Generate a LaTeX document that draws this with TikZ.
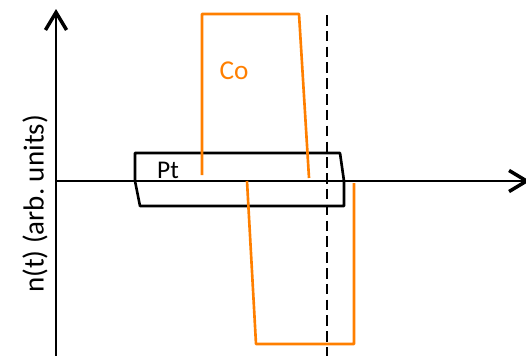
\documentclass[tikz,border=0pt]{standalone}
\usepackage{fontspec}
\setmainfont{Carlito}
\usetikzlibrary{arrows.meta}
\definecolor{coorange}{RGB}{255,127,0}

\begin{document}
\begin{tikzpicture}[
    x=0.02cm, y=-0.02cm,
    % Axes with open barbed heads
    axis/.style={line width=1.4pt, -{Straight Barb[length=10pt, width=12pt, line width=2pt]}},
    % Pt layer outline
    ptlayer/.style={draw, line width=1.5pt, line join=round},
    % Co profile
    coprofile/.style={draw=coorange, line width=1.5pt, line join=round},
    % Vertical marker line
    marker/.style={line width=1.6pt, dash pattern=on 6pt off 3pt},
    % Labels
    lbl/.style={font=\fontsize{16.5}{19}\selectfont, inner sep=0pt},
]
\useasboundingbox (0,0) rectangle (526,355);
\clip (0,0) rectangle (526,355);

% Axes
\coordinate (origin) at (56,181);
\coordinate (ybot) at (56,360);
\coordinate (ytop) at (56,9);
\coordinate (xend) at (530,181);
\draw[axis] (ybot) -- (ytop);
\draw[axis] (origin) -- (xend);
\node[lbl, rotate=90] (ylabel) at (35,204) {n(t) (arb.\ units)};

% Pt layer
\draw[ptlayer] (135,153) -- (340,153) -- (344,181) -- (344,206) -- (140,206) -- (135,181) -- cycle;
\node[lbl, font=\fontsize{14.5}{17}\selectfont] (pt) at (168,170.5) {Pt};

% Co profile, upper and lower halves
\draw[coprofile] (202,175) -- (202,14) -- (299,14) -- (309,178);
\draw[coprofile] (247,181) -- (256,344) -- (354,344) -- (354,183);
\node[lbl, font=\fontsize{15.5}{18}\selectfont, text=coorange] (co) at (234,71) {Co};

% Marker
\coordinate (mtop) at (327,15);
\coordinate (mbot) at (327,360);
\draw[marker] (mtop) -- (mbot);

\end{tikzpicture}
\end{document}
